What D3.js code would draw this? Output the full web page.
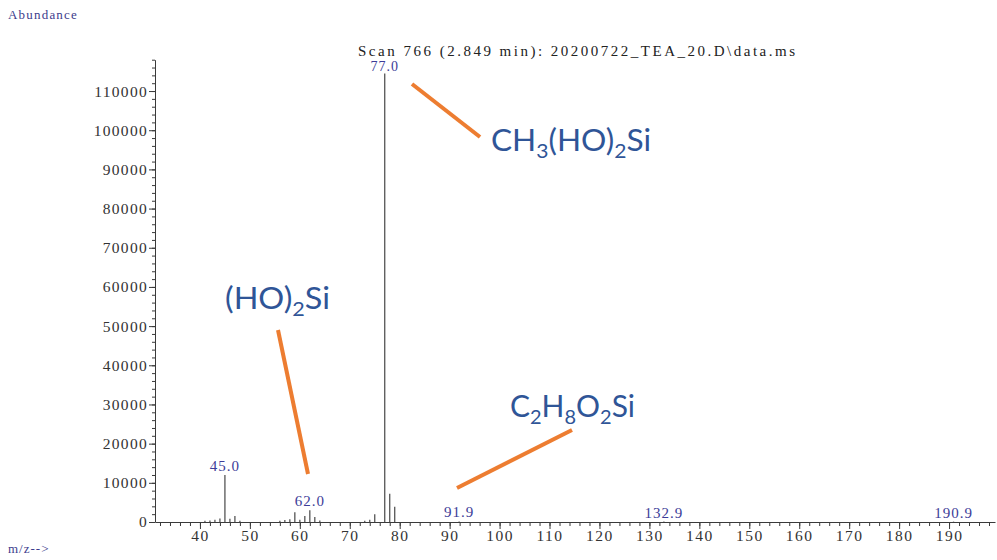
<!DOCTYPE html>
<html><head><meta charset="utf-8">
<script src="https://cdn.jsdelivr.net/npm/d3@7"></script>
<style>
body{margin:0;background:#fff;}
svg{display:block;}
</style></head>
<body>
<svg id="c" width="997" height="560"></svg>
<script>
// ---- data ----
const mz =        [41, 42, 43, 44, 45.0, 46, 47, 48, 56, 57, 58, 59, 60, 61, 62.0, 63, 64, 73, 74, 75, 77.0, 78, 79, 91.9, 132.9, 190.9];
const abundance = [300, 400, 600, 900, 12000, 800, 1500, 300, 300, 500, 700, 2500, 600, 1500, 3000, 1300, 400, 300, 600, 2000, 114500, 7200, 3900, 150, 100, 100];
const peakLabels = [
  {mz: 45.0, text: "45.0", ab: 12000},
  {mz: 62.0, text: "62.0", ab: 3000},
  {mz: 77.0, text: "77.0", ab: 114500},
  {mz: 91.9, text: "91.9", ab: 150},
  {mz: 132.9, text: "132.9", ab: 100},
  {mz: 190.9, text: "190.9", ab: 100}
];
const xTicks = [40, 50, 60, 70, 80, 90, 100, 110, 120, 130, 140, 150, 160, 170, 180, 190];
const yTicks = [0, 10000, 20000, 30000, 40000, 50000, 60000, 70000, 80000, 90000, 100000, 110000];
const title = "Scan 766 (2.849 min): 20200722_TEA_20.D\\data.ms";
const annotations = [
  {parts: [["CH",0],["3",1],["(HO)",0],["2",1],["Si",0]], pos: [491, 151], width: 160, line: [[412, 84], [480, 137]]},
  {parts: [["(HO)",0],["2",1],["Si",0]], pos: [225, 309], width: 105, line: [[278, 330], [308, 474]]},
  {parts: [["C",0],["2",1],["H",0],["8",1],["O",0],["2",1],["Si",0]], pos: [510, 417], width: 125, line: [[457, 488], [572, 430]]}
];

// ---- chart ----
const svg = d3.select("#c");
const x = d3.scaleLinear().domain([31, 199.2]).range([155, 995]);
const y = d3.scaleLinear().domain([0, 118000]).range([522, 59.7]);
const serif = "'Liberation Serif', 'DejaVu Serif', serif";
const axisCol = "#3a3a3a";

// title
svg.append("text").attr("x", 358).attr("y", 56)
  .attr("textLength", 437).attr("lengthAdjust", "spacing")
  .style("font-family", serif).style("font-size", "15px").attr("fill", "#222")
  .text(title);
svg.append("text").attr("x", 8).attr("y", 19)
  .style("font-family", serif).style("font-size", "13px").style("letter-spacing", "1.2px")
  .attr("fill", "#3c3c8c").text("Abundance");
svg.append("text").attr("x", 8).attr("y", 553)
  .style("font-family", serif).style("font-size", "13px").style("letter-spacing", "1px")
  .attr("fill", "#3c3c8c").text("m/z-->");

// x axis
const gx = svg.append("g").attr("transform", `translate(0,${y(0)})`);
gx.call(d3.axisBottom(x).tickValues(d3.range(32, 199, 2)).tickSize(4).tickFormat(""));
gx.call(g => g.selectAll(".domain").remove());
const gx2 = svg.append("g").attr("transform", `translate(0,${y(0)})`)
  .call(d3.axisBottom(x).tickValues(xTicks).tickSize(7).tickPadding(1).tickFormat(d3.format("d")).tickSizeOuter(0));
[gx, gx2].forEach(g => {
  g.selectAll("line,path").attr("stroke", axisCol);
  g.selectAll("text").style("font-family", serif).style("font-size", "15.5px")
    .style("letter-spacing", "1.5px").attr("fill", "#333");
});

// y axis
const gy = svg.append("g").attr("transform", `translate(${x.range()[0]},0)`);
gy.call(d3.axisLeft(y).tickValues(d3.range(0, 118001, 2000)).tickSize(3).tickFormat(""));
gy.call(g => g.selectAll(".domain").remove());
const gy2 = svg.append("g").attr("transform", `translate(${x.range()[0]},0)`)
  .call(d3.axisLeft(y).tickValues(yTicks).tickSize(6).tickPadding(1).tickFormat(d3.format("d")).tickSizeOuter(0));
[gy, gy2].forEach(g => {
  g.selectAll("line,path").attr("stroke", axisCol);
  g.selectAll("text").style("font-family", serif).style("font-size", "15.5px")
    .style("letter-spacing", "1.3px").attr("fill", "#333");
});

// peaks
svg.append("g").selectAll("line").data(mz.map((m, i) => [m, abundance[i]])).join("line")
  .attr("x1", d => x(d[0])).attr("x2", d => x(d[0]))
  .attr("y1", y(0)).attr("y2", d => y(d[1]))
  .attr("stroke", "#555").attr("stroke-width", 1.3);

// peak labels
svg.append("g").selectAll("text").data(peakLabels).join("text")
  .attr("x", d => x(d.mz)).attr("y", d => y(d.ab) - (d.ab > 100000 ? 2 : 4))
  .attr("text-anchor", "middle")
  .style("font-family", serif).style("font-size", d => d.ab > 100000 ? "14px" : "15px").style("letter-spacing", "1px")
  .attr("fill", "#3c3c98").text(d => d.text);

// annotations
const ann = svg.append("g");
annotations.forEach(a => {
  ann.append("line").attr("x1", a.line[0][0]).attr("y1", a.line[0][1])
    .attr("x2", a.line[1][0]).attr("y2", a.line[1][1])
    .attr("stroke", "#ED7D31").attr("stroke-width", 4);
  const t = ann.append("text").attr("x", a.pos[0]).attr("y", a.pos[1])
    .attr("textLength", a.width).attr("lengthAdjust", "spacingAndGlyphs")
    .style("font-family", "Lato, 'Open Sans', sans-serif").style("font-size", "30px")
    .attr("fill", "#2F5597");
  let sub = false;
  a.parts.forEach(p => {
    const ts = t.append("tspan").text(p[0]);
    if (p[1]) {
      ts.style("font-size", "20px");
      if (!sub) { ts.attr("dy", 7); sub = true; }
    } else if (sub) { ts.attr("dy", -7); sub = false; }
  });
});
</script>
</body></html>
